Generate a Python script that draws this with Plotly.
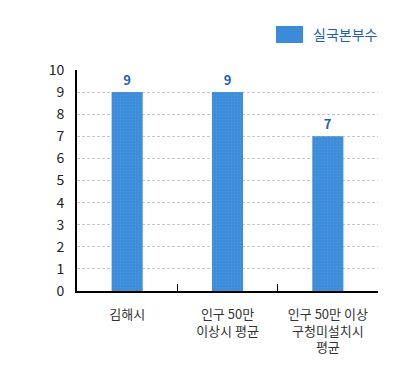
import plotly.graph_objects as go

categories = ["김해시", "인구 50만<br>이상시 평균", "인구 50만 이상<br>구청미설치시<br>평균"]
values = [9, 9, 7]
series_name = "실국본부수"
y_ticks = list(range(0, 11))

FONT = "Noto Sans CJK KR, Noto Sans, sans-serif"
BAR = "#3a8bd9"
LABEL = "#1a5fc4"

# the page body has an 8px margin, so the figure is drawn at (8, 8)
W, H = 395, 357
L, T, R, B = 69, 62, 25, 74
PW, PH = W - L - R, H - T - B


def px_x(x):  # window x -> paper x
    return (x - 8 - L) / PW


def px_y(y):  # window y -> paper y
    return (H - B - (y - 8)) / PH


fig = go.Figure()
fig.add_trace(go.Bar(
    x=categories, y=values, name=series_name,
    marker=dict(color=BAR, line=dict(width=0),
                pattern=dict(shape=".", fgcolor="#5aa0e6", bgcolor=BAR, size=3, solidity=0.3)),
    width=0.31,
    text=[str(v) for v in values], textposition="outside", cliponaxis=False,
    textfont=dict(color=LABEL, size=13, family=FONT, weight="bold"),
    showlegend=False,
))

fig.update_layout(
    width=W, height=H,
    margin=dict(l=L, r=R, t=T, b=B, autoexpand=False),
    paper_bgcolor="white", plot_bgcolor="white",
    font=dict(family=FONT, size=13, color="#222"),
    xaxis=dict(type="category", showline=True, linecolor="black", linewidth=2,
               ticks="inside", ticklen=7, tickcolor="black", tickwidth=1,
               tickson="boundaries", showgrid=False, ticklabelstandoff=10,
               automargin=False,
               tickfont=dict(size=13, color="#333")),
    yaxis=dict(range=[0, 10], tickvals=y_ticks, showline=True, linecolor="black",
               linewidth=2, showgrid=True, gridcolor="#c8c8c8", griddash="3px,2px",
               gridwidth=1, zeroline=False, ticks="", ticklabelstandoff=8,
               automargin=False,
               tickfont=dict(size=14, color="#222")),
    shapes=[dict(type="rect", xref="paper", yref="paper",
                 x0=px_x(276), x1=px_x(303), y0=px_y(43), y1=px_y(26),
                 fillcolor=BAR, line=dict(width=0))],
    annotations=[dict(text=series_name, xref="paper", yref="paper",
                      x=px_x(311), y=px_y(34.5),
                      xanchor="left", yanchor="middle", showarrow=False,
                      font=dict(size=14, color=LABEL, family=FONT))],
)

fig.write_html("out.html")
